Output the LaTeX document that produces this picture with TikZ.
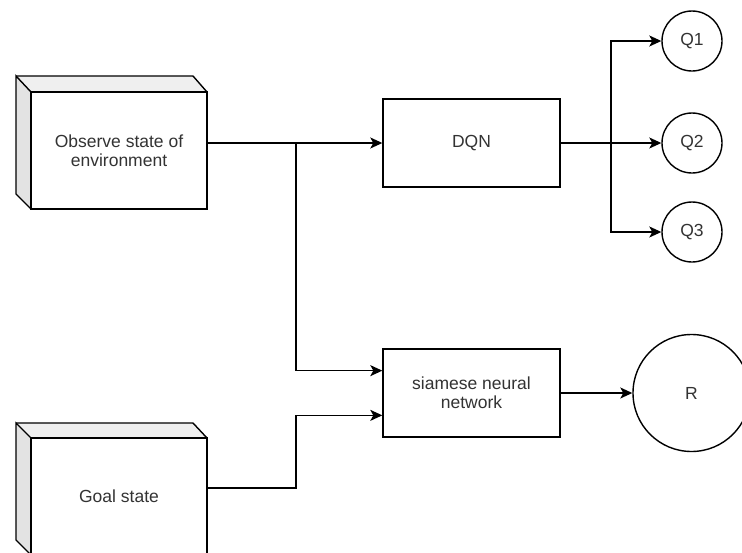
\documentclass[tikz,border=0pt]{standalone}
\usepackage{fontspec}
\setmainfont{Liberation Sans}
\usetikzlibrary{arrows.meta,calc}

\definecolor{sidegray}{HTML}{E3E3E3}
\definecolor{topgray}{HTML}{EFEFEF}
\definecolor{txt}{HTML}{333333}

\tikzset{
  lbl/.style={font=\fontsize{17.5}{19}\selectfont, text=txt, align=center},
  box/.style={lbl, draw, line width=1.4pt, fill=white, inner sep=0pt},
  ring/.style={lbl, draw, line width=1.4pt, circle, inner sep=0pt},
  hull/.style={draw=none, inner sep=0pt},
  arr/.style={line width=1.4pt, -{Stealth[length=12pt, width=11pt, inset=3pt]}},
  face/.style={draw, line width=1.4pt, line join=miter},
}

\begin{document}
\begin{tikzpicture}[x=1pt,y=-1pt]
  \useasboundingbox (0,0) rectangle (742,552);
  \clip (0,0) rectangle (742,552);

  % three-dimensional input blocks: outer hull, side and top faces, front face
  \node[hull, minimum width=191pt, minimum height=134pt] (obsbox) at (111.5,143) {};
  \fill[sidegray] (16,76) -- (31,92) -- (31,209) -- (16,194) -- cycle;
  \fill[topgray] (16,76) -- (193,76) -- (207,92) -- (31,92) -- cycle;
  \draw[face] (31,92) -- (16,76) -- (16,194) -- (31,209);
  \draw[face] (16,76) -- (193,76) -- (207,92);
  \node[box, minimum width=176pt, minimum height=117pt] (obs) at (119,150.5)
    {Observe state of\\environment};

  \node[hull, minimum width=191pt, minimum height=132pt] (goalbox) at (111.5,488) {};
  \fill[sidegray] (16,423) -- (31,438) -- (31,555) -- (16,540) -- cycle;
  \fill[topgray] (16,423) -- (193,423) -- (207,438) -- (31,438) -- cycle;
  \draw[face] (31,438) -- (16,423) -- (16,540) -- (31,555);
  \draw[face] (16,423) -- (193,423) -- (207,438);
  \node[box, minimum width=176pt, minimum height=117pt] (goal) at (119,496.5)
    {Goal state};

  % processing blocks
  \node[box, minimum width=177pt, minimum height=88pt] (dqn) at (471.5,143) {DQN};
  \node[box, minimum width=177pt, minimum height=88pt] (siam) at (471.5,393)
    {siamese neural\\network};

  % outputs
  \node[ring, minimum size=60pt] (q1) at (692,41) {Q1};
  \node[ring, minimum size=60pt] (q2) at (692,143) {Q2};
  \node[ring, minimum size=60pt] (q3) at (692,232) {Q3};
  \node[ring, minimum size=117pt] (r) at (691.5,393) {R};

  % junction points
  \coordinate (split) at (296,143);
  \coordinate (fork) at (611,143);
  \coordinate (sin1) at ($(siam.west)!0.5!(siam.north west)$);
  \coordinate (sin2) at ($(siam.west)!0.5!(siam.south west)$);

  % connectors
  \draw[arr] (obsbox.east) -- (dqn.west);
  \draw[arr] (split) |- (sin1);
  \draw[arr] (goalbox.east) -- (goalbox.east -| split) |- (sin2);
  \draw[arr] (dqn.east) -- (q2.west);
  \draw[arr] (fork) |- (q1.west);
  \draw[arr] (fork) |- (q3.west);
  \draw[arr] (siam.east) -- (r.west);
\end{tikzpicture}
\end{document}
